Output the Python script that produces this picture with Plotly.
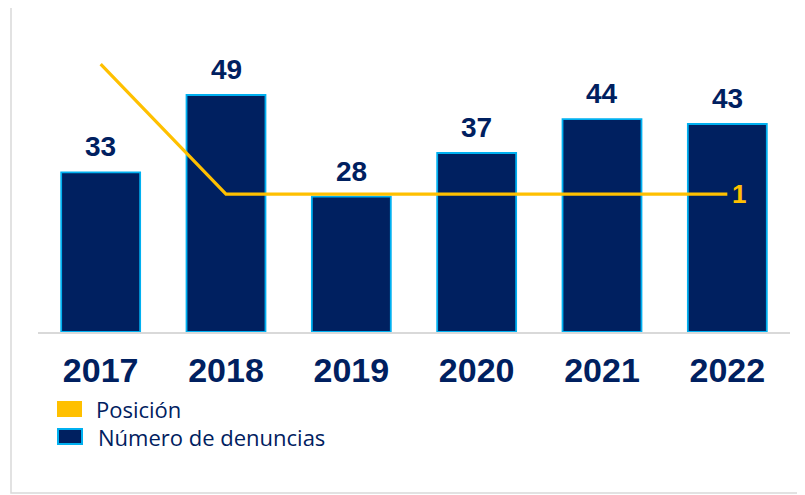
import plotly.graph_objects as go

years = ["2017", "2018", "2019", "2020", "2021", "2022"]
denuncias = [33, 49, 28, 37, 44, 43]
posicion = [2, 1, 1, 1, 1, 1]
series_names = ["Posición", "Número de denuncias"]

NAVY = "#002060"
CYAN = "#00B0F0"
GOLD = "#FFC000"
BOLDF = "Liberation Sans, Arial, sans-serif"

OFF = 8  # page body margin
W, H = 805, 495

fig = go.Figure()
fig.add_trace(go.Bar(
    x=years, y=denuncias, name=series_names[1],
    marker=dict(color=NAVY, line=dict(color=CYAN, width=1.8)),
    showlegend=False,
))
fig.add_trace(go.Scatter(
    x=years, y=posicion, name=series_names[0], yaxis="y2",
    mode="lines", line=dict(color=GOLD, width=3.2),
    showlegend=False,
))

annotations = []
for i, v in enumerate(denuncias):
    annotations.append(dict(
        x=i, y=v, xref="x", yref="y", text=f"<b>{v}</b>", showarrow=False,
        yanchor="bottom", yshift=8,
        font=dict(family=BOLDF, size=28, color=NAVY),
    ))
annotations.append(dict(
    x=len(years) - 1, y=posicion[-1], xref="x", yref="y2", text=f"<b>{posicion[-1]}</b>",
    showarrow=False, xanchor="left", xshift=3, yanchor="middle",
    font=dict(family=BOLDF, size=26, color=GOLD),
))

# screen-pixel layout of the plot area
L, R, T, B = 38, 790, 20, 332
def px_x(p):
    return (p - L) / (R - L)
def px_y(p):
    return (B - p) / (B - T)

shapes = [
    dict(type="rect", xref="paper", yref="paper",
         x0=px_x(57), x1=px_x(82), y0=px_y(417), y1=px_y(401),
         fillcolor=GOLD, line=dict(width=0)),
    dict(type="rect", xref="paper", yref="paper",
         x0=px_x(58), x1=px_x(82), y0=px_y(444), y1=px_y(429),
         fillcolor=NAVY, line=dict(color=CYAN, width=2)),
    # outer frame
    dict(type="rect", xref="paper", yref="paper",
         x0=px_x(11), x1=px_x(830), y0=px_y(493), y1=px_y(4),
         fillcolor="rgba(0,0,0,0)", line=dict(color="#D9D9D9", width=1.5), layer="below"),
]
annotations.append(dict(
    x=px_x(94), y=px_y(409), xref="paper", yref="paper", text=series_names[0],
    showarrow=False, xanchor="left", yanchor="middle",
    font=dict(family="Open Sans, Noto Sans, sans-serif", size=22, color=NAVY),
))
annotations.append(dict(
    x=px_x(96), y=px_y(437), xref="paper", yref="paper", text=series_names[1],
    showarrow=False, xanchor="left", yanchor="middle",
    font=dict(family="Open Sans, Noto Sans, sans-serif", size=22, color=NAVY),
))

fig.update_layout(
    width=W, height=H,
    margin=dict(l=L - OFF, r=W - R + OFF, t=T - OFF, b=H - B + OFF, autoexpand=False),
    paper_bgcolor="white", plot_bgcolor="white",
    bargap=0.37,
    xaxis=dict(
        type="category", range=[-0.5, len(years) - 0.5], automargin=False,
        showgrid=False, showline=True, linecolor="#D9D9D9", linewidth=1.5,
        ticks="outside", ticklen=7, tickcolor="rgba(0,0,0,0)",
        tickfont=dict(family=BOLDF, size=34, color=NAVY),
        tickprefix="<b>", ticksuffix="</b>",
    ),
    yaxis=dict(range=[0, 64.5], visible=False, showgrid=False, zeroline=False),
    yaxis2=dict(range=[-0.06, 2.34], overlaying="y", visible=False, showgrid=False, zeroline=False),
    shapes=shapes,
    annotations=annotations,
    showlegend=False,
)

fig.write_html("out.html")
